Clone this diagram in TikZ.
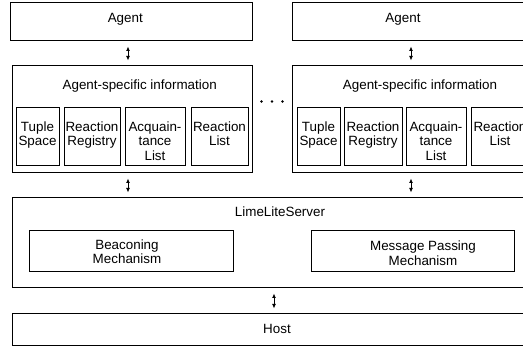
\documentclass[tikz,border=0pt]{standalone}
\usepackage{fontspec}
\setmainfont{Liberation Sans}
\usetikzlibrary{arrows.meta}
\begin{document}
\begin{tikzpicture}[x=1pt,y=-1pt,
  box/.style={draw=black, line width=1pt, inner sep=0pt},
  txt/.style={inner sep=0pt, font=\fontsize{13.4}{14.5}\selectfont, align=center, text=black},
  darrow/.style={{Latex[length=4.5pt,width=4pt]}-{Latex[length=4.5pt,width=4pt]}, line width=1pt, draw=black, shorten >=5pt, shorten <=5pt},
  dot/.style={fill=black}]
\clip (0,0) rectangle (523,347);
% outer boxes
\node[box, minimum width=242pt, minimum height=38pt] (agentL) at (131,22) {};
\node[box, minimum width=248pt, minimum height=38pt] (agentR) at (416,22) {};
\node[box, minimum width=240pt, minimum height=107pt] (asiL) at (132,119.5) {};
\node[box, minimum width=248pt, minimum height=107pt] (asiR) at (416,119.5) {};
\node[box, minimum width=548pt, minimum height=90pt] (lls) at (286,243) {};
\node[box, minimum width=548pt, minimum height=32pt] (host) at (286,330) {};
% inner boxes, left agent
\node[box, minimum width=43pt, minimum height=58pt] (t1) at (37.5,137) {};
\node[box, minimum width=56pt, minimum height=58pt] (r1) at (92,137) {};
\node[box, minimum width=60pt, minimum height=58pt] (q1) at (155,137) {};
\node[box, minimum width=57pt, minimum height=58pt] (l1) at (219.5,137) {};
% inner boxes, right agent
\node[box, minimum width=43pt, minimum height=58pt] (t2) at (318.5,137) {};
\node[box, minimum width=58pt, minimum height=58pt] (r2) at (373,137) {};
\node[box, minimum width=60pt, minimum height=58pt] (q2) at (436,137) {};
\node[box, minimum width=57pt, minimum height=58pt] (l2) at (499.5,137) {};
% server boxes
\node[box, minimum width=204pt, minimum height=41pt] (beac) at (131,251.5) {};
\node[box, minimum width=203pt, minimum height=41pt] (mp) at (412.5,251.5) {};
% texts
\node[txt, anchor=base] (agentLt) at (125.3,22.7) {Agent};
\node[txt, anchor=base] (agentRt) at (403,22.7) {Agent};
\node[txt, anchor=base] (asiLt) at (139.7,90) {Agent-specific information};
\node[txt, anchor=base] (asiRt) at (420,90) {Agent-specific information};
\node[txt, anchor=north] (t1t) at (37.5,121.3) {Tuple\\Space};
\node[txt, anchor=north] (r1t) at (92,121.3) {Reaction\\Registry};
\node[txt, anchor=north] (q1t) at (155,121.3) {Acquain-\\tance\\List};
\node[txt, anchor=north] (l1t) at (219.5,121.3) {Reaction\\List};
\node[txt, anchor=north] (t2t) at (318.5,121.3) {Tuple\\Space};
\node[txt, anchor=north] (r2t) at (373,121.3) {Reaction\\Registry};
\node[txt, anchor=north] (q2t) at (436,121.3) {Acquain-\\tance\\List};
\node[txt, anchor=north] (l2t) at (500,121.3) {Reaction\\List};
\node[txt, anchor=base] (llst) at (280,216.5) {LimeLiteServer};
\node[txt] (beact) at (127,251.5) {Beaconing\\Mechanism};
\node[txt] (mpt) at (423,253) {Message Passing\\Mechanism};
\node[txt, anchor=base] (hostt) at (277,334) {Host};
% dots
\fill[dot] (261.5,101.5) circle (1.3);
\fill[dot] (272,101.5) circle (1.3);
\fill[dot] (282.5,101.5) circle (1.3);
% arrows
\coordinate (a1) at (128,0);
\coordinate (a2) at (411,0);
\coordinate (a3) at (274,0);
\draw[darrow] (agentL.south -| a1) -- (asiL.north -| a1);
\draw[darrow] (agentR.south -| a2) -- (asiR.north -| a2);
\draw[darrow] (asiL.south -| a1) -- (lls.north -| a1);
\draw[darrow] (asiR.south -| a2) -- (lls.north -| a2);
\draw[darrow] (lls.south -| a3) -- (host.north -| a3);
\end{tikzpicture}
\end{document}
